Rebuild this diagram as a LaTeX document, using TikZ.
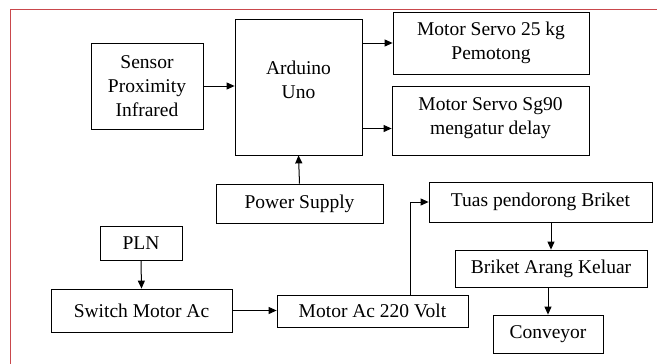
\documentclass[tikz,border=0pt]{standalone}
\usepackage{fontspec}
\setmainfont{Liberation Serif}
\usetikzlibrary{positioning,arrows.meta,calc}
\definecolor{nred}{HTML}{C9484C}
\tikzset{
 blok/.style={draw, line width=0.8pt, inner sep=0pt, align=center, font=\fontsize{19.5}{24}\selectfont},
 panah/.style={-{Triangle[length=8pt,width=7pt]}, line width=1pt}
}

\begin{document}
\begin{tikzpicture}[x=1pt,y=-1pt]
 \useasboundingbox (0,0) rectangle (657,364);
 \draw[nred, line width=1pt] (10,364) -- (10,9) -- (657,9);
 % controller part
 \node[blok, minimum width=112pt, minimum height=86pt] (sensor) at (147,86) {Sensor\\Proximity\\Infrared};
 \node[blok, minimum width=127pt, minimum height=136pt] (ard) at (298.5,87) {Arduino\\Uno\\[-10pt]\mbox{}};
 \node[blok, minimum width=196pt, minimum height=62pt] (m25) at (491,43) {Motor Servo 25 kg\\Pemotong};
 \node[blok, minimum width=197pt, minimum height=69pt] (sg) at (490.5,120.5) {Motor Servo Sg90\\mengatur delay\\[-16pt]\mbox{}};
 \node[blok, minimum width=167pt, minimum height=39pt] (pwr) at (299.5,203.5) {Power Supply};
 % ac motor part
 \node[blok, minimum width=82pt, minimum height=34pt] (pln) at (141,243) {PLN};
 \node[blok, minimum width=181pt, minimum height=43pt] (sw) at (141.5,310.5) {Switch Motor Ac};
 \node[blok, minimum width=191pt, minimum height=32pt] (mac) at (372.5,311) {Motor Ac 220 Volt};
 \node[blok, minimum width=223pt, minimum height=40pt] (tuas) at (540.5,202) {Tuas pendorong Briket};
 \node[blok, minimum width=192pt, minimum height=37pt] (bk) at (551,268.5) {Briket Arang Keluar};
 \node[blok, minimum width=110pt, minimum height=38pt] (conv) at (548,334) {Conveyor};
 % connectors
 \draw[panah] (sensor.east) -- (sensor.east -| ard.west);
 \draw[panah] (m25.west -| ard.east) -- (m25.west);
 \draw[panah] ([yshift=-8pt]sg.west -| ard.east) -- ([yshift=-8pt]sg.west);
 \draw[panah] (pwr.north) -- (ard.south);
 \draw[panah] (pln.south) -- (sw.north);
 \draw[panah] (sw.east) -- (sw.east -| mac.west);
 \draw[panah] ([xshift=37.5pt]mac.north) |- (tuas.west);
 \draw[panah] (bk.north |- tuas.south) -- (bk.north);
 \draw[panah] (conv.north |- bk.south) -- (conv.north);
\end{tikzpicture}
\end{document}
